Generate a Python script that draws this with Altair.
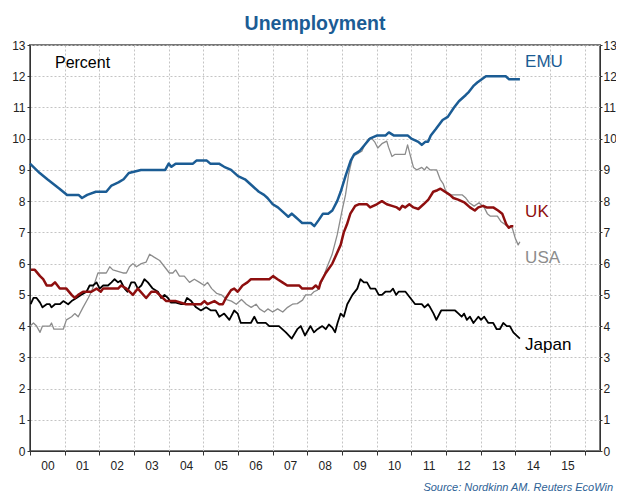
import altair as alt
import pandas as pd

# ---------------- data (fractional year, percent) ----------------
emu_t = [2000.0, 2000.28, 2000.5, 2000.85, 2001.07, 2001.4, 2001.5, 2001.65, 2001.9, 2002.2,
         2002.35, 2002.55, 2002.7, 2002.85, 2003.2, 2003.9, 2004.0, 2004.08, 2004.2, 2004.7,
         2004.8, 2005.1, 2005.2, 2005.45, 2005.6, 2005.8, 2006.0, 2006.2, 2006.4, 2006.6,
         2006.75, 2006.85, 2007.0, 2007.15, 2007.35, 2007.45, 2007.55, 2007.65, 2007.75, 2007.85,
         2008.1, 2008.2, 2008.33, 2008.45, 2008.6, 2008.72, 2008.86, 2008.96, 2009.1, 2009.25,
         2009.35, 2009.5, 2009.65, 2009.8, 2010.0, 2010.25, 2010.35, 2010.5, 2010.9, 2011.0,
         2011.2, 2011.3, 2011.4, 2011.48, 2011.56, 2011.7, 2011.9, 2012.05, 2012.23, 2012.37,
         2012.57, 2012.66, 2012.8, 2012.9, 2013.15, 2013.72, 2013.82, 2014.13]
emu_v = [9.2, 8.9, 8.7, 8.4, 8.2, 8.2, 8.1, 8.2, 8.3, 8.3,
         8.5, 8.6, 8.7, 8.9, 9.0, 9.0, 9.2, 9.1, 9.2, 9.2,
         9.3, 9.3, 9.2, 9.2, 9.1, 9.0, 8.8, 8.7, 8.5, 8.3,
         8.2, 8.1, 7.9, 7.8, 7.6, 7.5, 7.6, 7.5, 7.4, 7.3,
         7.3, 7.2, 7.4, 7.6, 7.6, 7.7, 8.0, 8.3, 8.8, 9.3,
         9.5, 9.6, 9.8, 10.0, 10.1, 10.1, 10.2, 10.1, 10.1, 10.0,
         9.9, 9.8, 9.9, 9.9, 10.1, 10.3, 10.6, 10.7, 11.0, 11.2,
         11.4, 11.5, 11.7, 11.8, 12.0, 12.0, 11.9, 11.9]

uk_t = [2000.03, 2000.14, 2000.29, 2000.38, 2000.48, 2000.62, 2000.72, 2000.86, 2001.05, 2001.2,
        2001.29, 2001.39, 2001.53, 2001.77, 2001.92, 2002.04, 2002.11, 2002.54, 2002.63, 2002.78,
        2002.97, 2003.11, 2003.35, 2003.5, 2003.64, 2003.93, 2004.21, 2004.5, 2004.93, 2005.03,
        2005.12, 2005.32, 2005.46, 2005.56, 2005.65, 2005.8, 2005.89, 2005.99, 2006.13, 2006.27,
        2006.37, 2006.9, 2007.01, 2007.14, 2007.28, 2007.42, 2007.76, 2007.85, 2008.14, 2008.24,
        2008.33, 2008.38, 2008.53, 2008.72, 2008.96, 2009.05, 2009.14, 2009.24, 2009.38, 2009.48,
        2009.72, 2009.81, 2010.0, 2010.15, 2010.29, 2010.44, 2010.58, 2010.66, 2010.74, 2010.82,
        2010.94, 2011.06, 2011.2, 2011.35, 2011.49, 2011.63, 2011.75, 2011.84, 2011.97, 2012.11,
        2012.21, 2012.35, 2012.54, 2012.69, 2012.83, 2012.93, 2013.07, 2013.17, 2013.36, 2013.5,
        2013.62, 2013.74, 2013.81, 2013.87, 2013.94]
uk_v = [5.8, 5.8, 5.6, 5.5, 5.3, 5.3, 5.4, 5.2, 5.2, 5.0,
        4.9, 5.0, 5.1, 5.1, 5.2, 5.1, 5.2, 5.2, 5.3, 5.2,
        5.0, 5.2, 4.9, 5.1, 5.1, 4.8, 4.8, 4.7, 4.7, 4.8,
        4.7, 4.8, 4.7, 4.7, 4.9, 5.15, 5.2, 5.1, 5.3, 5.4,
        5.5, 5.5, 5.6, 5.5, 5.4, 5.3, 5.3, 5.2, 5.2, 5.3,
        5.2, 5.4, 5.7, 6.0, 6.6, 7.0, 7.25, 7.6, 7.85, 7.9,
        7.9, 7.8, 7.9, 8.0, 7.9, 7.85, 7.8, 7.73, 7.85, 7.8,
        7.9, 7.8, 7.75, 7.9, 8.05, 8.3, 8.35, 8.4, 8.3, 8.2,
        8.1, 8.05, 7.95, 7.8, 7.7, 7.8, 7.85, 7.8, 7.8, 7.7,
        7.6, 7.25, 7.15, 7.2, 7.2]

usa_t = [2000.0, 2000.1, 2000.19, 2000.29, 2000.36, 2000.57, 2000.62, 2000.69, 2000.96, 2001.05,
         2001.2, 2001.29, 2001.39, 2001.53, 2001.68, 2001.77, 2001.87, 2001.96, 2002.2, 2002.3,
         2002.39, 2002.68, 2002.78, 2002.87, 2002.97, 2003.07, 2003.21, 2003.35, 2003.45, 2003.59,
         2003.74, 2003.88, 2004.02, 2004.12, 2004.2, 2004.31, 2004.45, 2004.6, 2004.74, 2004.89,
         2005.03, 2005.12, 2005.24, 2005.38, 2005.52, 2005.67, 2005.81, 2005.95, 2006.1, 2006.24,
         2006.38, 2006.52, 2006.62, 2006.76, 2006.86, 2007.0, 2007.14, 2007.29, 2007.43, 2007.57,
         2007.71, 2007.86, 2007.95, 2008.1, 2008.19, 2008.29, 2008.43, 2008.57, 2008.71, 2008.86,
         2009.0, 2009.1, 2009.19, 2009.29, 2009.34, 2009.48, 2009.57, 2009.67, 2009.77, 2009.86,
         2009.94, 2010.03, 2010.15, 2010.29, 2010.34, 2010.44, 2010.53, 2010.82, 2010.89, 2010.96,
         2011.06, 2011.16, 2011.3, 2011.38, 2011.44, 2011.54, 2011.73, 2011.83, 2011.92, 2011.99,
         2012.13, 2012.47, 2012.57, 2012.67, 2012.81, 2012.95, 2013.1, 2013.19, 2013.28, 2013.48,
         2013.58, 2013.77, 2013.91, 2014.0, 2014.08, 2014.13]
usa_v = [4.0, 4.1, 4.0, 3.8, 4.0, 4.0, 4.1, 3.9, 3.9, 4.2,
         4.3, 4.4, 4.3, 4.6, 4.9, 5.1, 5.4, 5.7, 5.7, 5.9,
         5.8, 5.7, 5.7, 5.9, 6.0, 5.9, 6.0, 6.05, 6.3, 6.2,
         6.1, 5.9, 5.7, 5.7, 5.8, 5.6, 5.6, 5.4, 5.5, 5.4,
         5.3, 5.4, 5.2, 5.05, 5.0, 4.85, 4.8, 4.7, 4.85, 4.7,
         4.6, 4.7, 4.55, 4.45, 4.55, 4.45, 4.55, 4.45, 4.6, 4.7,
         4.72, 4.83, 5.0, 5.0, 5.1, 5.15, 5.47, 5.9, 6.28, 6.92,
         7.7, 8.2, 8.87, 9.35, 9.46, 9.54, 9.6, 9.84, 10.0, 10.0,
         9.9, 9.7, 9.84, 9.92, 9.73, 9.43, 9.5, 9.5, 9.8, 9.5,
         9.08, 9.0, 9.08, 9.0, 9.1, 9.0, 9.0, 8.7, 8.55, 8.32,
         8.2, 8.2, 8.1, 7.95, 7.84, 7.95, 7.8, 7.6, 7.52, 7.52,
         7.35, 7.2, 7.14, 6.8, 6.6, 6.7]

japan_t = [2000.02, 2000.1, 2000.19, 2000.29, 2000.36, 2000.48, 2000.57, 2000.62, 2000.72, 2000.86,
           2000.96, 2001.1, 2001.2, 2001.34, 2001.48, 2001.63, 2001.72, 2001.82, 2001.92, 2002.01,
           2002.11, 2002.25, 2002.35, 2002.44, 2002.54, 2002.61, 2002.73, 2002.81, 2002.92, 2003.02,
           2003.11, 2003.21, 2003.3, 2003.4, 2003.54, 2003.69, 2003.78, 2003.88, 2003.98, 2004.07,
           2004.21, 2004.36, 2004.45, 2004.53, 2004.65, 2004.79, 2004.93, 2005.08, 2005.22, 2005.36,
           2005.46, 2005.6, 2005.75, 2005.89, 2005.99, 2006.08, 2006.37, 2006.47, 2006.56, 2006.8,
           2006.9, 2007.18, 2007.38, 2007.55, 2007.71, 2007.81, 2007.93, 2008.09, 2008.19, 2008.29,
           2008.43, 2008.53, 2008.62, 2008.72, 2008.8, 2008.87, 2008.96, 2009.05, 2009.15, 2009.3,
           2009.44, 2009.53, 2009.63, 2009.72, 2009.82, 2009.96, 2010.06, 2010.15, 2010.25, 2010.39,
           2010.47, 2010.56, 2010.63, 2010.83, 2010.97, 2011.11, 2011.3, 2011.38, 2011.48, 2011.54,
           2011.64, 2011.72, 2011.86, 2012.26, 2012.36, 2012.45, 2012.52, 2012.6, 2012.69, 2012.79,
           2012.93, 2013.01, 2013.1, 2013.22, 2013.36, 2013.46, 2013.55, 2013.65, 2013.75, 2013.84,
           2013.94, 2014.03, 2014.13]
japan_v = [4.7, 4.9, 4.9, 4.75, 4.6, 4.7, 4.7, 4.6, 4.7, 4.7,
           4.8, 4.7, 4.8, 4.9, 5.0, 5.1, 5.3, 5.3, 5.4, 5.2,
           5.3, 5.3, 5.4, 5.5, 5.4, 5.45, 5.2, 5.1, 5.4, 5.4,
           5.2, 5.3, 5.5, 5.4, 5.2, 5.1, 4.9, 5.0, 4.9, 4.75,
           4.75, 4.7, 4.7, 4.9, 4.8, 4.6, 4.5, 4.6, 4.5, 4.5,
           4.3, 4.4, 4.2, 4.5, 4.4, 4.1, 4.1, 4.3, 4.1, 4.1,
           4.0, 4.0, 3.8, 3.6, 3.9, 4.0, 3.7, 4.0, 3.8, 3.9,
           4.0, 3.9, 4.05, 3.95, 3.8, 4.1, 4.4, 4.3, 4.7, 5.0,
           5.2, 5.5, 5.4, 5.4, 5.2, 5.2, 5.0, 5.0, 5.1, 5.1,
           5.2, 5.0, 5.1, 5.1, 4.9, 4.7, 4.7, 4.6, 4.7, 4.6,
           4.4, 4.2, 4.5, 4.5, 4.4, 4.3, 4.4, 4.2, 4.3, 4.1,
           4.3, 4.2, 4.3, 4.1, 4.1, 3.9, 3.9, 4.1, 4.0, 4.0,
           3.8, 3.7, 3.6]

series_names = ["USA", "Japan", "UK", "EMU"]
series_colors = {"EMU": "#1B5C94", "UK": "#8E0F0F", "USA": "#8C8C8C", "Japan": "#000000"}
series_widths = {"EMU": 2.5, "UK": 2.5, "USA": 1.3, "Japan": 1.8}
series_data = {"EMU": (emu_t, emu_v), "UK": (uk_t, uk_v),
               "USA": (usa_t, usa_v), "Japan": (japan_t, japan_v)}

year_ticks = list(range(2000, 2017))
value_ticks = list(range(0, 14))

title_text = "Unemployment"
unit_text = "Percent"
source_text = "Source: Nordkinn AM. Reuters EcoWin"

# ---------------- build table ----------------
rows = []
for name, (ts, vs) in series_data.items():
    assert len(ts) == len(vs), name
    for t, v in zip(ts, vs):
        rows.append({"series": name, "t": t, "v": v})
df = pd.DataFrame(rows)

# label annotations (data coordinates)
labels = pd.DataFrame({
    "label": ["EMU", "UK", "USA", "Japan", unit_text],
    "t": [2014.28, 2014.28, 2014.28, 2014.28, 2000.72],
    "v": [12.45, 7.66, 6.18, 3.39, 12.41],
    "c": [series_colors["EMU"], series_colors["UK"], series_colors["USA"], "#000000", "#000000"],
    "fs": [17, 17, 17, 17, 16],
})

FONT = "Liberation Sans"
GRID = "#c4c4c4"
xscale = alt.Scale(domain=[2000, 2016.44], nice=False, zero=False)
yscale = alt.Scale(domain=[0, 13], nice=False, zero=False)

X = alt.X("t:Q", scale=xscale, title=None,
          axis=alt.Axis(values=year_ticks, grid=True, gridDash=[2, 2], gridColor=GRID,
                        tickSize=4, tickColor="#333", domainColor="#333",
                        labelExpr="datum.value < 2016 ? substring(toString(datum.value), 2, 4) : ''",
                        labelOffset=17.4, labelPadding=5, labelFontSize=12, labelColor="#222",
                        labelFont=FONT, labelOverlap=False, labelFlush=False, labelBound=False))
Y = alt.Y("v:Q", scale=yscale, title=None,
          axis=alt.Axis(values=value_ticks, grid=True, gridDash=[2, 2], gridColor=GRID,
                        tickSize=3, tickColor="#333", domainColor="#333", labelPadding=2,
                        labelFontSize=12, labelColor="#222", labelFont=FONT,
                        labelOverlap=False, labelFlush=False, labelBound=False))

layers = []
for name in series_names:
    layers.append(
        alt.Chart(df).transform_filter(alt.datum.series == name)
        .mark_line(color=series_colors[name], strokeWidth=series_widths[name],
                   interpolate="linear", strokeJoin="round")
        .encode(x=X, y=Y, order="t:Q")
    )

text_layer = alt.Chart(labels).mark_text(align="left", baseline="middle", font=FONT).encode(
    x=X, y=Y, text="label:N", color=alt.Color("c:N", scale=None),
    size=alt.Size("fs:Q", scale=None))

source_layer = alt.Chart(pd.DataFrame({"s": [source_text]})).mark_text(
    align="right", baseline="middle", fontSize=11, fontStyle="italic", font=FONT,
    color="#2E6296").encode(text="s:N", x=alt.value(583), y=alt.value(443))

inner = alt.layer(*layers, text_layer, source_layer)

right_axis = alt.Chart(pd.DataFrame({"v": value_ticks})).mark_point(opacity=0).encode(
    y=alt.Y("v:Q", scale=yscale, title=None,
            axis=alt.Axis(orient="right", values=value_ticks, grid=False, tickSize=2,
                          tickColor="#333", domainColor="#333", labelPadding=1,
                          labelFontSize=12, labelColor="#222", labelFont=FONT,
                          labelOverlap=False, labelFlush=False, labelBound=False)))

chart = alt.layer(inner, right_axis).resolve_axis(y="independent").properties(
    width=570, height=406,
    autosize="none",
    padding={"left": 22, "top": 37, "right": 16, "bottom": 47},
    title=alt.TitleParams(title_text, fontSize=19.5, fontWeight="bold", color="#1B5C94",
                          font=FONT, anchor="middle", offset=5),
).configure_view(stroke="#777", strokeWidth=2).configure_axis(domainWidth=1)

chart.save("out.html", embed_options={"renderer": "svg", "actions": False})
